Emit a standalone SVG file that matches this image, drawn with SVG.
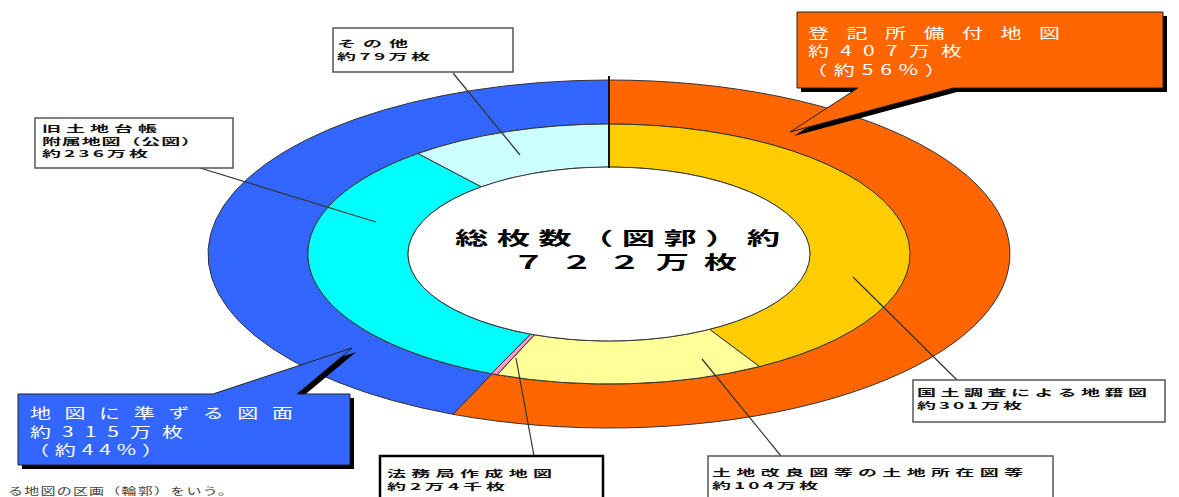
<svg xmlns="http://www.w3.org/2000/svg" width="1179" height="497" viewBox="0 0 1179 497">
<style>
  .seg{stroke:#333;stroke-width:1;}
  .jp{font-family:"Noto Sans CJK JP","Noto Sans CJK SC",sans-serif;}
  .big{font-size:18px;font-weight:bold;fill:#000;}
  .call{font-size:14px;fill:#fff;}
  .lab{font-size:9.5px;font-weight:bold;fill:#111;}
  .box{fill:#fff;stroke:#555;stroke-width:1.5;}
  .lead{stroke:#333;stroke-width:1.2;fill:none;}
</style>
<rect width="1179" height="497" fill="#fff"/>

<g id="outer-ring">
  <path id="seg-touki" class="seg" fill="#FF6600" d="M609,80 A401,174 0 1 1 453,414.3 L491.9,373.8 A301,130 0 1 0 609,124 Z"/>
  <path id="seg-junzuru" class="seg" fill="#3366FF" d="M453,414.3 A401,174 0 0 1 609,80 L609,124 A301,130 0 0 0 491.9,373.8 Z"/>
</g>
<g id="inner-ring">
  <path id="seg-kokudo" class="seg" fill="#FFCC00" d="M609,124 A301,130 0 0 1 759.5,366.6 L709.5,329.3 A201,87 0 0 0 609,167 Z"/>
  <path id="seg-kairyo" class="seg" fill="#FFFF99" d="M759.5,366.6 A301,130 0 0 1 497.2,374.7 L534.4,334.8 A201,87 0 0 0 709.5,329.3 Z"/>
  <path id="seg-houmu" class="seg" fill="#FF99CC" d="M497.2,374.7 A301,130 0 0 1 491.4,373.7 L530.5,334.1 A201,87 0 0 0 534.4,334.8 Z"/>
  <path id="seg-kyu" class="seg" fill="#00FFFF" d="M491.4,373.7 A301,130 0 0 1 418,153.5 L481.4,186.8 A201,87 0 0 0 530.5,334.1 Z"/>
  <path id="seg-sonota" class="seg" fill="#CCFFFF" d="M418,153.5 A301,130 0 0 1 609,124 L609,167 A201,87 0 0 0 481.4,186.8 Z"/>
  <ellipse id="center-hole" cx="609" cy="254" rx="201" ry="87" fill="#fff" stroke="#333" stroke-width="1"/>
  <line x1="609" y1="76" x2="609" y2="168" stroke="#111" stroke-width="2"/>
</g>

<g id="center-title" class="jp big">
  <text transform="translate(455,245) scale(1.85,1)" textLength="175.7" lengthAdjust="spacing">総枚数（図郭）約</text>
  <text transform="translate(512,269) scale(1.85,1)" textLength="121.6" lengthAdjust="spacing">７２２万枚</text>
</g>

<g id="connectors">
  <line class="lead" x1="453" y1="73" x2="520" y2="155"/>
  <line class="lead" x1="200" y1="168" x2="376" y2="222"/>
  <line class="lead" x1="516" y1="358" x2="534" y2="456"/>
  <line class="lead" x1="702" y1="359" x2="781" y2="456"/>
  <line class="lead" x1="853" y1="277" x2="957" y2="380"/>
</g>

<g id="callout-touki">
  <path fill="#000" transform="translate(4,4)" d="M797,12 H1163 V88 H953 L790,132 L858,88 H797 Z"/>
  <path fill="#FF6600" stroke="#222" stroke-width="1" d="M797,12 H1163 V88 H953 L790,132 L858,88 H797 Z"/>
  <g class="jp call">
    <text transform="translate(808,37.5) scale(1.5,1)" textLength="168" lengthAdjust="spacing">登記所備付地図</text>
    <text transform="translate(808,56) scale(1.5,1)" textLength="102.7" lengthAdjust="spacing">約407万枚</text>
    <text transform="translate(806,74.5) scale(1.5,1)" textLength="93.3" lengthAdjust="spacing">（約56%）</text>
  </g>
</g>

<g id="callout-junzuru">
  <path fill="#000" transform="translate(4,4)" d="M18,394 H213 L352,348 L297,394 H350 V465 H18 Z"/>
  <path fill="#3366FF" stroke="#222" stroke-width="1" d="M18,394 H213 L352,348 L297,394 H350 V465 H18 Z"/>
  <g class="jp call">
    <text transform="translate(30,418) scale(1.5,1)" textLength="175.3" lengthAdjust="spacing">地図に準ずる図面</text>
    <text transform="translate(30,436.5) scale(1.5,1)" textLength="102" lengthAdjust="spacing">約315万枚</text>
    <text transform="translate(28,455) scale(1.5,1)" textLength="90" lengthAdjust="spacing">（約44%）</text>
  </g>
</g>

<g id="label-sonota">
  <rect class="box" x="333" y="28" width="180" height="44"/>
  <g class="jp lab">
    <text transform="translate(337,47) scale(2,1)" textLength="35.5" lengthAdjust="spacing">その他</text>
    <text transform="translate(337,59.5) scale(2,1)" textLength="46.5" lengthAdjust="spacing">約79万枚</text>
  </g>
</g>

<g id="label-kyu">
  <rect class="box" x="35" y="118" width="198" height="50"/>
  <g class="jp lab">
    <text transform="translate(42,132) scale(2,1)" textLength="57.5" lengthAdjust="spacing">旧土地台帳</text>
    <text transform="translate(42,144.5) scale(2,1)" textLength="79" lengthAdjust="spacing">附属地図（公図）</text>
    <text transform="translate(42,157) scale(2,1)" textLength="53" lengthAdjust="spacing">約236万枚</text>
  </g>
</g>

<g id="label-kokudo">
  <rect class="box" x="913" y="380" width="252" height="42"/>
  <g class="jp lab">
    <text transform="translate(917,396) scale(2,1)" textLength="115" lengthAdjust="spacing">国土調査による地籍図</text>
    <text transform="translate(917,409) scale(2,1)" textLength="52.5" lengthAdjust="spacing">約301万枚</text>
  </g>
</g>

<g id="label-houmu">
  <rect x="380" y="456" width="223" height="50" fill="#fff" stroke="#000" stroke-width="2.5"/>
  <g class="jp lab">
    <text transform="translate(387,477) scale(2,1)" textLength="82.5" lengthAdjust="spacing">法務局作成地図</text>
    <text transform="translate(387,490) scale(2,1)" textLength="59" lengthAdjust="spacing">約2万4千枚</text>
  </g>
</g>

<g id="label-kairyo">
  <rect class="box" x="708" y="456" width="345" height="50"/>
  <g class="jp lab">
    <text transform="translate(712,476) scale(2,1)" textLength="155.5" lengthAdjust="spacing">土地改良図等の土地所在図等</text>
    <text transform="translate(712,489) scale(2,1)" textLength="53" lengthAdjust="spacing">約104万枚</text>
  </g>
</g>

<g id="footnote">
  <text class="jp" font-size="10" fill="#444" transform="translate(8,495) scale(1.5,1)" textLength="150" lengthAdjust="spacing">る地図の区画（輪郭）をいう。</text>
</g>
</svg>
